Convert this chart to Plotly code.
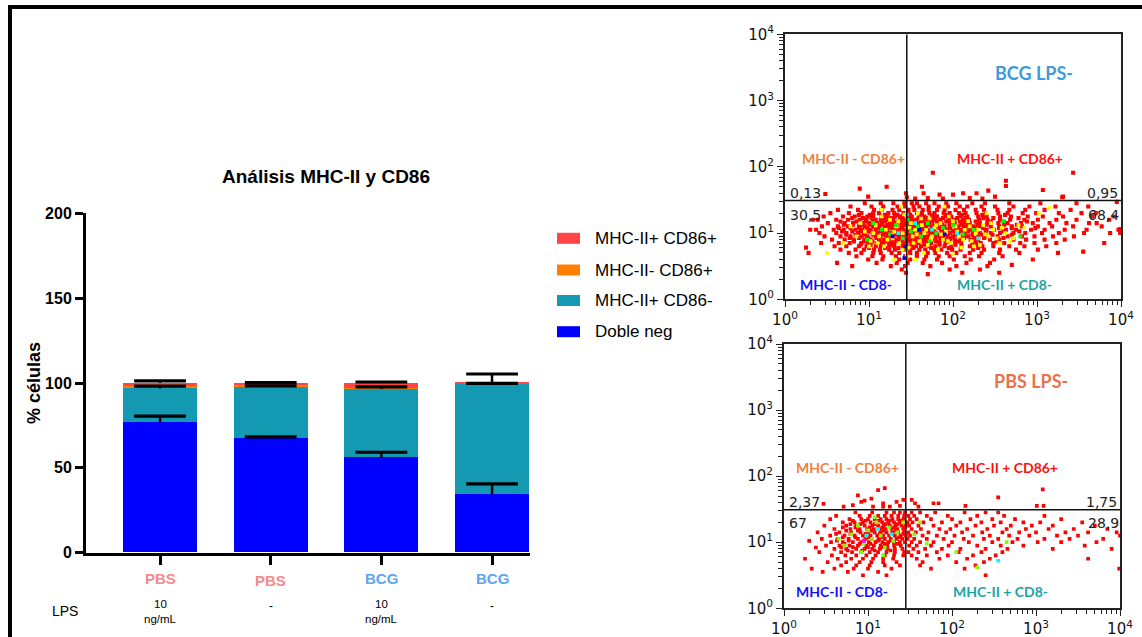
import plotly.graph_objects as go

W, H = 1142, 637

# ---------------- Bar chart data ----------------
CATS = [0, 1, 2, 3]
GROUPS = ["PBS", "PBS", "BCG", "BCG"]
LPS_LABELS = ["10<br>ng/mL", "-", "10<br>ng/mL", "-"]
SERIES_NAMES = ["Doble neg", "MHC-II+ CD86-", "MHC-II- CD86+", "MHC-II+ CD86+"]
DOBLE_NEG = [76.8, 67.4, 56.2, 34.4]
MHC_POS_CD86_NEG = [20.0, 30.3, 40.3, 65.0]
MHC_NEG_CD86_POS = [1.5, 1.2, 0.5, 0.2]
MHC_POS_CD86_POS = [1.7, 1.1, 3.0, 0.4]
ERR_DOBLE_NEG = [3.7, 0.8, 3.0, 6.1]
ERR_MHC_POS_CD86_NEG = [1.4, 0.6, 1.2, 0.4]
ERR_MHC_NEG_CD86_POS = [0.0, 0.0, 0.0, 0.0]
ERR_MHC_POS_CD86_POS = [1.2, 0.2, 0.6, 5.3]
BAR_COLORS = ["#0000FF", "#1399B2", "#FF8000", "#FF4545"]
Y_TICKS = [0, 50, 100, 150, 200]

# ---------------- Flow data (log10 units) ----------------
FLOW_TICKS = [1, 10, 100, 1000, 10000]
FLOW_TICKTEXT = ["10<sup>0</sup>", "10<sup>1</sup>", "10<sup>2</sup>", "10<sup>3</sup>", "10<sup>4</sup>"]
GATE_X_LOG = 1.45
GATE_Y_LOG = 1.49

# BCG LPS- : rows of events (log10 y : log10 x values)
BCG_RED_ROWS = [
    (1.45, "0.95 1.14 1.29 1.42 1.51 1.57 1.68 1.78 1.92 2.04 2.23 2.38 2.67 3.04 3.47"),
    (1.40, "0.78 1.03 1.17 1.34 1.43 1.53 1.60 1.71 1.83 1.94 2.08 2.17 2.34 2.50 2.72 2.91 3.22 3.61"),
    (1.35, "0.63 0.87 1.06 1.15 1.28 1.36 1.47 1.54 1.64 1.71 1.81 1.90 2.03 2.13 2.27 2.37 2.53 2.67 2.86 3.09 3.40"),
    (1.30, "0.54 0.76 0.91 1.05 1.12 1.23 1.30 1.41 1.47 1.57 1.63 1.72 1.78 1.89 1.96 2.07 2.15 2.28 2.39 2.54 2.65 2.83 2.99 3.26 3.53"),
    (1.275, "0.88 1.01 1.19 1.34 1.49 1.62 1.77 1.93 2.11 2.35 2.62"),
    (1.25, "0.46 0.69 0.83 0.98 1.05 1.15 1.22 1.31 1.37 1.46 1.51 1.61 1.66 1.75 1.81 1.91 1.98 2.09 2.17 2.30 2.40 2.56 2.69 2.89 3.07 3.31 3.66"),
    (1.225, "0.80 0.93 1.03 1.18 1.27 1.40 1.48 1.59 1.68 1.77 1.88 2.05 2.15 2.36 2.48 2.78"),
    (1.20, "0.39 0.61 0.75 0.89 0.97 1.08 1.14 1.23 1.29 1.37 1.42 1.51 1.56 1.65 1.70 1.79 1.85 1.95 2.01 2.12 2.19 2.31 2.41 2.56 2.68 2.85 3.01 3.23 3.47 3.86"),
    (1.175, "0.66 0.85 0.96 1.05 1.19 1.27 1.35 1.47 1.55 1.62 1.75 1.83 1.92 2.08 2.17 2.27 2.45 2.60 2.88"),
    (1.15, "0.51 0.71 0.81 0.93 1.00 1.10 1.15 1.25 1.30 1.39 1.44 1.53 1.58 1.67 1.72 1.81 1.86 1.96 2.02 2.13 2.20 2.32 2.41 2.54 2.65 2.81 2.95 3.15 3.35 3.71"),
    (1.125, "0.70 0.81 0.92 1.01 1.15 1.22 1.30 1.43 1.50 1.58 1.71 1.78 1.87 2.00 2.10 2.18 2.29 2.40 2.61 2.76"),
    (1.10, "0.44 0.63 0.75 0.88 0.95 1.05 1.11 1.20 1.25 1.34 1.39 1.48 1.53 1.62 1.67 1.76 1.81 1.90 1.96 2.06 2.13 2.24 2.32 2.45 2.55 2.70 2.82 3.01 3.18 3.43 3.77"),
    (1.075, "0.64 0.78 0.89 0.98 1.12 1.19 1.27 1.40 1.47 1.55 1.68 1.75 1.84 1.97 2.06 2.15 2.26 2.36 2.55 2.70 2.98"),
    (1.05, "0.37 0.58 0.70 0.84 0.92 1.02 1.08 1.17 1.22 1.31 1.36 1.45 1.50 1.59 1.64 1.73 1.78 1.87 1.93 2.03 2.09 2.20 2.28 2.40 2.49 2.63 2.75 2.93 3.09 3.33 3.59 3.97"),
    (1.025, "0.68 0.80 0.90 0.99 1.14 1.21 1.29 1.42 1.49 1.57 1.70 1.77 1.86 2.00 2.09 2.18 2.28 2.39 2.60 2.79"),
    (1.00, "0.41 0.61 0.73 0.87 0.94 1.04 1.10 1.19 1.24 1.33 1.38 1.47 1.52 1.61 1.66 1.75 1.80 1.90 1.96 2.06 2.13 2.24 2.32 2.45 2.56 2.72 2.86 3.06 3.26 3.56 3.87"),
    (0.975, "0.73 0.84 0.95 1.05 1.17 1.24 1.32 1.45 1.52 1.60 1.73 1.81 1.90 2.03 2.14 2.23 2.35 2.47 2.70"),
    (0.95, "0.47 0.66 0.78 0.91 0.98 1.08 1.13 1.22 1.27 1.36 1.41 1.50 1.55 1.64 1.69 1.78 1.84 1.94 2.00 2.11 2.18 2.30 2.39 2.53 2.65 2.82 2.97 3.19 3.44"),
    (0.925, "0.77 0.88 0.99 1.09 1.21 1.29 1.36 1.49 1.57 1.65 1.79 1.88 1.97 2.13 2.25 2.37 2.60"),
    (0.90, "0.56 0.71 0.82 0.95 1.02 1.12 1.17 1.26 1.31 1.40 1.45 1.54 1.59 1.69 1.75 1.85 1.91 2.02 2.09 2.21 2.30 2.44 2.55 2.72 2.87 3.09 3.33"),
    (0.875, "0.82 0.94 1.04 1.19 1.27 1.35 1.49 1.56 1.65 1.80 1.96 2.06 2.27 2.52"),
    (0.85, "0.43 0.64 0.77 0.91 0.99 1.09 1.15 1.24 1.30 1.39 1.44 1.53 1.59 1.68 1.74 1.84 1.91 2.02 2.10 2.23 2.33 2.48 2.61 2.80 2.97 3.23"),
    (0.825, "0.90 1.02 1.17 1.28 1.43 1.51 1.66 1.84 2.03 2.28"),
    (0.80, "0.59 0.73 0.88 0.97 1.08 1.14 1.24 1.30 1.40 1.46 1.56 1.62 1.72 1.79 1.90 1.98 2.10 2.20 2.35 2.48 2.67 2.85 3.11"),
    (0.775, "1.00 1.19 1.35 1.53 1.74 1.95 2.30"),
    (0.75, "0.66 0.84 0.94 1.06 1.13 1.24 1.31 1.42 1.49 1.60 1.67 1.78 1.86 1.99 2.09 2.24 2.37 2.56 2.75 3.01"),
    (0.70, "0.76 0.91 1.05 1.14 1.27 1.36 1.49 1.57 1.70 1.79 1.93 2.04 2.20 2.34 2.55 2.79"),
    (0.65, "0.85 1.04 1.17 1.32 1.43 1.57 1.68 1.83 1.96 2.14 2.31 2.59"),
    (0.60, "0.99 1.16 1.36 1.49 1.66 1.81 2.01 2.21 2.49"),
    (0.55, "1.09 1.33 1.46 1.64 1.87 2.16 2.44"),
    (0.50, "1.26 1.43 1.73 2.04 2.41"),
    (0.45, "1.39 1.96 2.32"),
    (0.40, "1.44 2.11"),
]
BCG_RED_EXTRA_X = [0.48, 0.89, 1.21, 1.44, 1.45, 1.63, 1.65, 1.76, 1.84, 2.00, 2.28, 2.42, 2.63, 2.63, 3.07,
                   3.43, 3.31, 3.95, 0.99, 1.70, 1.88, 2.12, 2.20, 2.35, 2.50, 3.30, 1.55,
                   0.25, 0.30, 0.28, 0.33, 3.99, 3.99, 3.92, 3.80, 3.70, 3.55, 3.62, 0.62, 0.80, 2.70,
                   2.95, 3.25, 1.70, 2.55]
BCG_RED_EXTRA_Y = [1.59, 1.67, 1.70, 1.60, 1.54, 1.70, 1.60, 1.91, 1.58, 1.58, 1.60, 1.64, 1.79, 1.71, 1.65,
                   1.91, 1.55, 1.47, 1.55, 1.53, 1.52, 1.60, 1.53, 1.52, 1.55, 1.54, 1.52,
                   0.78, 1.05, 0.70, 1.20, 1.00, 1.06, 1.25, 0.85, 1.30, 0.72, 1.15, 0.55, 0.50, 0.52,
                   0.60, 0.70, 0.38, 0.40]
BCG_YELLOW_X = [0.95, 1.02, 1.08, 1.12, 1.18, 1.20, 1.25, 1.28, 1.33, 1.36, 1.40, 1.42, 1.47, 1.50, 1.52,
                1.55, 1.58, 1.60, 1.63, 1.66, 1.70, 1.72, 1.75, 1.78, 1.82, 1.85, 1.88, 1.92, 1.95, 1.98,
                2.03, 2.07, 2.10, 2.14, 2.18, 2.22, 2.27, 2.32, 2.36, 2.42, 2.48, 2.55, 2.62, 2.72, 2.85,
                3.02, 3.15, 0.85, 0.78, 0.70, 0.50, 1.45, 1.65, 1.30, 1.15, 1.90, 2.00, 2.40, 1.38, 1.55,
                1.05, 1.10, 1.22, 1.30, 1.35, 1.48, 1.53, 1.57, 1.62, 1.68, 1.74, 1.80, 1.86, 1.94, 2.00,
                2.05, 2.12, 2.20, 2.25, 2.30, 2.38, 2.45, 2.52, 2.58, 2.68, 2.78, 1.15, 1.40, 0.90, 1.00]
BCG_YELLOW_Y = [1.02, 0.88, 1.12, 0.95, 0.80, 1.05, 1.20, 0.92, 1.10, 0.85, 1.00, 1.28, 0.78, 1.15, 0.95,
                1.05, 1.30, 0.88, 1.12, 1.00, 0.82, 1.22, 0.95, 1.08, 0.75, 1.15, 0.90, 1.02, 1.25, 0.85,
                1.10, 0.95, 0.78, 1.05, 1.18, 0.88, 1.00, 0.82, 1.12, 0.95, 1.05, 0.85, 1.00, 0.92, 1.08,
                1.30, 1.38, 0.95, 1.10, 0.85, 0.70, 0.65, 0.70, 0.60, 1.35, 1.40, 0.68, 1.30, 1.40, 0.60,
                1.00, 0.85, 0.90, 1.02, 1.18, 1.08, 0.85, 0.98, 1.22, 1.05, 0.90, 1.12, 0.98, 0.88, 1.18,
                1.02, 0.90, 1.10, 0.80, 1.05, 0.98, 1.15, 0.92, 1.08, 0.88, 1.12, 1.25, 0.75, 1.15, 0.80]
BCG_GREEN_X = [1.15, 1.25, 1.32, 1.40, 1.46, 1.50, 1.58, 1.62, 1.70, 1.80, 1.88, 2.00, 2.12, 2.25, 0.98,
               1.05, 1.72, 2.60, 2.80]
BCG_GREEN_Y = [1.05, 0.98, 1.12, 0.92, 1.20, 1.02, 1.10, 0.95, 1.15, 1.00, 1.08, 1.12, 0.98, 1.05, 0.90,
               1.15, 0.88, 1.18, 0.95]
BCG_CYAN_X = [1.35, 1.55, 1.75, 1.45, 2.05, 2.30]
BCG_CYAN_Y = [1.00, 1.15, 1.05, 1.28, 1.00, 0.92]
BCG_BLUE_X = [1.28, 1.43, 1.60, 1.90, 1.42]
BCG_BLUE_Y = [0.95, 0.80, 1.05, 0.98, 0.62]

# PBS LPS- : rows of events (log10 y : log10 x values)
PBS_RED_ROWS = [
    (1.45, "0.85 1.05 1.22 1.31 1.38 1.44 1.52 1.62 1.80 2.15 2.40 2.55"),
    (1.40, "0.62 0.90 1.02 1.12 1.20 1.28 1.36 1.43 1.48 1.55 1.70 1.95 2.30 2.62 3.10"),
    (1.35, "0.55 0.78 0.92 1.00 1.08 1.15 1.22 1.29 1.36 1.42 1.50 1.58 1.75 2.00 2.22 2.48 2.75 3.30"),
    (1.325, "0.82 0.97 1.13 1.26 1.40"),
    (1.30, "0.70 0.84 0.94 1.03 1.10 1.17 1.24 1.31 1.38 1.44 1.47 1.53 1.66 1.88 2.10 2.35 2.58 2.85 3.05 3.55"),
    (1.275, "0.79 0.91 1.08 1.21 1.35"),
    (1.25, "0.48 0.74 0.86 0.96 1.05 1.12 1.19 1.26 1.33 1.40 1.45 1.49 1.60 1.78 2.05 2.28 2.50 2.70 2.95 3.20 3.70"),
    (1.225, "0.70 0.85 1.02 1.17 1.31 1.44"),
    (1.20, "0.60 0.79 0.90 0.99 1.07 1.14 1.21 1.28 1.35 1.42 1.52 1.63 1.85 1.98 2.18 2.42 2.65 2.88 3.15 3.45 3.85"),
    (1.175, "0.74 0.88 1.04 1.18 1.33"),
    (1.15, "0.40 0.66 0.80 0.91 1.00 1.08 1.15 1.22 1.29 1.36 1.43 1.48 1.57 1.72 1.93 2.12 2.36 2.60 2.80 3.00 3.35 3.62 3.96"),
    (1.125, "0.62 0.79 0.97 1.14 1.29 1.42"),
    (1.10, "0.55 0.72 0.84 0.94 1.03 1.11 1.18 1.25 1.32 1.39 1.45 1.50 1.65 1.82 2.03 2.25 2.45 2.68 2.92 3.25 3.50 4.00"),
    (1.075, "0.70 0.85 1.00 1.16 1.37"),
    (1.05, "0.45 0.64 0.77 0.88 0.97 1.05 1.13 1.20 1.27 1.34 1.41 1.47 1.55 1.70 1.90 2.14 2.38 2.55 2.78 3.10 3.40 3.80"),
    (1.025, "0.63 0.77 0.95 1.12 1.27"),
    (1.00, "0.56 0.70 0.82 0.92 1.01 1.09 1.17 1.24 1.31 1.38 1.44 1.52 1.62 1.78 2.00 2.20 2.48 2.72 3.02 3.30 3.72"),
    (0.975, "0.72 0.90 1.03 1.20 1.35"),
    (0.95, "0.50 0.66 0.78 0.88 0.98 1.07 1.15 1.23 1.31 1.39 1.49 1.58 1.75 1.96 2.30 2.58 2.85 3.58"),
    (0.925, "0.68 0.82 1.00 1.18"),
    (0.90, "0.60 0.74 0.86 0.96 1.05 1.14 1.23 1.32 1.41 1.54 1.68 1.88 2.10 2.40 2.66 3.20 3.90"),
    (0.875, "0.76 0.93 1.08 1.27"),
    (0.85, "0.42 0.68 0.81 0.92 1.02 1.12 1.22 1.32 1.43 1.48 1.60 1.82 2.08 2.35 2.60"),
    (0.80, "0.57 0.73 0.86 0.98 1.09 1.20 1.31 1.42 1.52 1.70 1.95 2.25 2.52"),
    (0.75, "0.64 0.80 0.94 1.06 1.18 1.30 1.58 1.85 2.18 2.45 3.62"),
    (0.70, "0.52 0.74 0.90 1.04 1.18 1.34 1.65 2.05 2.38"),
    (0.65, "0.68 0.86 1.02 1.20 1.38 1.62 2.28"),
    (0.60, "0.60 0.83 1.00 1.28 1.75 2.15 3.99"),
    (0.55, "0.46 0.76 1.12"),
    (0.50, "0.94 1.22 2.40"),
]
PBS_RED_EXTRA_X = [1.12, 1.20, 0.88, 0.82, 0.92, 0.96, 1.04, 1.18, 1.26, 1.34, 1.38, 1.42, 0.47, 0.71, 1.18,
                   1.06, 1.52, 1.56, 1.60, 1.78, 1.84, 2.16, 2.55, 3.01, 3.08, 3.09,
                   0.25, 0.33, 0.38, 0.30]
PBS_RED_EXTRA_Y = [1.79, 1.82, 1.71, 1.56, 1.61, 1.63, 1.66, 1.59, 1.54, 1.61, 1.55, 1.64, 1.58, 1.54, 1.54,
                   1.54, 1.64, 1.59, 1.54, 1.59, 1.59, 1.55, 1.68, 1.55, 1.80, 1.55,
                   0.75, 0.60, 0.92, 1.02]
PBS_GREEN_X = [0.80, 0.88, 0.95, 1.00, 1.05, 1.10, 1.15, 1.20, 1.25, 1.30, 0.72, 0.92, 1.08, 1.35, 1.42,
               0.65, 1.18, 1.55, 1.70, 2.30, 2.65, 2.05, 1.62]
PBS_GREEN_Y = [1.12, 1.25, 0.98, 1.18, 1.05, 1.30, 1.10, 0.92, 1.22, 1.02, 0.95, 0.85, 1.38, 1.15, 1.30,
               1.05, 0.80, 1.12, 0.98, 0.62, 1.00, 0.85, 1.30]
PBS_CYAN_X = [0.98, 1.12, 1.28, 2.55]
PBS_CYAN_Y = [1.10, 1.20, 1.12, 0.72]
PBS_MAGENTA_X = [0.95]
PBS_MAGENTA_Y = [1.02]


def PX(x):
    return x / W


def PY(y):
    return 1 - y / H


def rows_to_xy(rows):
    xs, ys = [], []
    for ylog, xstr in rows:
        for v in xstr.split():
            xs.append(10 ** float(v))
            ys.append(10 ** ylog)
    return xs, ys


def lin(vals):
    return [10 ** v for v in vals]


fig = go.Figure()

# ---------------- Bars ----------------
bar_series = [DOBLE_NEG, MHC_POS_CD86_NEG, MHC_NEG_CD86_POS, MHC_POS_CD86_POS]
bar_errors = [ERR_DOBLE_NEG, ERR_MHC_POS_CD86_NEG, ERR_MHC_NEG_CD86_POS, ERR_MHC_POS_CD86_POS]
for vals, name, col in zip(bar_series, SERIES_NAMES, BAR_COLORS):
    fig.add_trace(go.Bar(
        x=CATS, y=vals, name=name, marker=dict(color=col, line=dict(width=0)),
        width=0.669, showlegend=False, xaxis="x", yaxis="y",
    ))

# error bars (upper only) drawn on top of the whole stack, at each segment's top:
# stem = error bar without caps, cap = horizontal line marker at the stem's end
cum = [0.0] * len(CATS)
for vals, err in zip(bar_series, bar_errors):
    cum = [c + v for c, v in zip(cum, vals)]
    if any(e > 0 for e in err):
        fig.add_trace(go.Scatter(
            x=CATS, y=cum, mode="markers", xaxis="x", yaxis="y", showlegend=False, hoverinfo="skip",
            marker=dict(size=1, color="rgba(0,0,0,0)"),
            error_y=dict(type="data", symmetric=False, array=err, arrayminus=[0] * len(err),
                         color="black", thickness=2.5, width=0),
        ))
        fig.add_trace(go.Scatter(
            x=CATS, y=[c + e for c, e in zip(cum, err)], mode="markers", xaxis="x", yaxis="y",
            showlegend=False, hoverinfo="skip",
            marker=dict(symbol="line-ew", size=37, color="black", line=dict(width=3.2, color="black")),
        ))


# ---------------- Flow scatter ----------------
def add_dots(xs, ys, color, ax, size=3.7):
    fig.add_trace(go.Scatter(
        x=xs, y=ys, mode="markers", xaxis="x" + ax, yaxis="y" + ax, showlegend=False,
        hoverinfo="skip",
        marker=dict(symbol="square", size=size, color=color, line=dict(width=0)),
    ))


bx, by = rows_to_xy(BCG_RED_ROWS)
add_dots(bx + lin(BCG_RED_EXTRA_X), by + lin(BCG_RED_EXTRA_Y), "#FF0000", "2", 4.1)
add_dots(lin(BCG_YELLOW_X), lin(BCG_YELLOW_Y), "#FFFF00", "2")
add_dots(lin(BCG_GREEN_X), lin(BCG_GREEN_Y), "#00FF00", "2")
add_dots(lin(BCG_CYAN_X), lin(BCG_CYAN_Y), "#00FFFF", "2")
add_dots(lin(BCG_BLUE_X), lin(BCG_BLUE_Y), "#0000FF", "2")

px_, py_ = rows_to_xy(PBS_RED_ROWS)
add_dots(px_ + lin(PBS_RED_EXTRA_X), py_ + lin(PBS_RED_EXTRA_Y), "#FF0000", "3")
add_dots(lin(PBS_GREEN_X), lin(PBS_GREEN_Y), "#80FF00", "3")
add_dots(lin(PBS_CYAN_X), lin(PBS_CYAN_Y), "#00FFFF", "3")
add_dots(lin(PBS_MAGENTA_X), lin(PBS_MAGENTA_Y), "#FF00FF", "3")

# quadrant gates
for ax in ["2", "3"]:
    gx = 10 ** GATE_X_LOG
    gy = 10 ** GATE_Y_LOG
    fig.add_trace(go.Scatter(x=[gx, gx], y=[1, 10000], mode="lines", xaxis="x" + ax, yaxis="y" + ax,
                             line=dict(color="#111111", width=1.5), showlegend=False, hoverinfo="skip"))
    fig.add_trace(go.Scatter(x=[1, 10000], y=[gy, gy], mode="lines", xaxis="x" + ax, yaxis="y" + ax,
                             line=dict(color="#111111", width=1.5), showlegend=False, hoverinfo="skip"))

ARIAL = "Liberation Sans, Arial, Helvetica, sans-serif"
DEJAVU = "DejaVu Sans, Verdana, sans-serif"
LATO = "Lato, Carlito, Calibri, sans-serif"

flow_axis = dict(
    type="log", range=[0, 4], tickvals=FLOW_TICKS, ticktext=FLOW_TICKTEXT,
    showline=True, mirror=True, linecolor="#222222", linewidth=2,
    ticks="outside", ticklen=6, tickwidth=1.2, tickcolor="#222222",
    minor=dict(ticks="outside", ticklen=4, tickwidth=1, tickcolor="#222222",
               tickvals=[m * 10 ** d for d in range(4) for m in range(2, 10)]),
    showgrid=False, zeroline=False, automargin=False,
    tickfont=dict(family=DEJAVU, size=15, color="#111111"),
)

fig.update_layout(
    width=W, height=H, autosize=False,
    margin=dict(l=0, r=0, t=0, b=0, pad=0, autoexpand=False),
    paper_bgcolor="white", plot_bgcolor="white",
    barmode="stack", bargap=0,
    showlegend=False,
    xaxis=dict(domain=[PX(86), PX(530)], range=[-0.669, 3.343], tickvals=CATS, showticklabels=False,
               ticks="outside", ticklen=9, tickwidth=3, tickcolor="black",
               showline=True, linecolor="black", linewidth=3, showgrid=False, zeroline=False,
               anchor="y", fixedrange=True, automargin=False),
    yaxis=dict(domain=[PY(552.7), PY(213.3)], range=[0, 200], tickvals=Y_TICKS,
               ticks="outside", ticklen=8, tickwidth=3, tickcolor="black",
               showline=True, linecolor="black", linewidth=3, showgrid=False, zeroline=False,
               tickfont=dict(family=ARIAL, size=16, color="black", weight="bold"),
               anchor="x", automargin=False),
    xaxis2=dict(domain=[PX(785), PX(1121)], anchor="y2", **flow_axis),
    yaxis2=dict(domain=[PY(299.3), PY(34.3)], anchor="x2", **flow_axis),
    xaxis3=dict(domain=[PX(784), PX(1120)], anchor="y3", **flow_axis),
    yaxis3=dict(domain=[PY(608.3), PY(344)], anchor="x3", **flow_axis),
)

ann = []


def text(x, y, s, size, color="black", family=ARIAL, bold=False, xanchor="center", yanchor="middle",
         xref="paper", angle=0):
    ann.append(dict(x=x if xref != "paper" else PX(x), y=PY(y), xref=xref, yref="paper", text=s,
                    showarrow=False, xanchor=xanchor, yanchor=yanchor, textangle=angle,
                    font=dict(family=family, size=size, color=color, weight="bold" if bold else "normal")))


# Bar chart titles
text(326, 176, "Análisis MHC-II y CD86", 19, bold=True)
text(34, 383, "% células", 18, bold=True, angle=-90)

GROUP_COLORS = {"PBS": "#F28B8B", "BCG": "#5AA5F5"}
GROUP_Y = [578, 580, 578, 578]
for c, g, lp, gy in zip(CATS, GROUPS, LPS_LABELS, GROUP_Y):
    text(c, gy, g, 15, color=GROUP_COLORS[g], bold=True, xref="x")
    if lp == "-":
        text(c, 606, lp, 12, xref="x")
    else:
        top, bottom = lp.split("<br>")
        text(c, 604, top, 11.5, xref="x")
        text(c, 619, bottom, 11.5, xref="x")
text(65, 611, "LPS", 14)

# manual legend
shapes = []
LEG_Y = [238.3, 270, 300.5, 331.7]
LEG_ORDER = [3, 2, 1, 0]
for yy, i in zip(LEG_Y, LEG_ORDER):
    shapes.append(dict(type="rect", xref="paper", yref="paper", x0=PX(557), x1=PX(580),
                       y0=PY(yy + 5.5), y1=PY(yy - 5.5), fillcolor=BAR_COLORS[i], line=dict(width=0)))
    text(593, yy, SERIES_NAMES[i], 17, xanchor="left")

# Flow quadrant labels
FLOW_LABELS = [
    (1034, 73, "BCG LPS-", 18, "#3C9BDC"),
    (853, 159, "MHC-II - CD86+", 14, "#F08040"),
    (1010, 159, "MHC-II + CD86+", 14, "#FF1010"),
    (846, 285, "MHC-II - CD8-", 14, "#1010FF"),
    (1004, 285, "MHC-II + CD8-", 14, "#1AA3A3"),
    (1031, 381, "PBS LPS-", 18, "#E8734A"),
    (848, 467, "MHC-II - CD86+", 14, "#F08040"),
    (1005, 467, "MHC-II + CD86+", 14, "#FF1010"),
    (842, 591, "MHC-II - CD8-", 14, "#1010FF"),
    (1000, 591, "MHC-II + CD8-", 14, "#1AA3A3"),
]
for x, y, s, size, col in FLOW_LABELS:
    text(x, y, s, size, color=col, family=LATO, bold=True)

PCT_LABELS = [
    (788, 193, "0,13", "left"), (1120, 193, "0,95", "right"),
    (788, 215, "30,5", "left"), (1121, 215, "68,4", "right"),
    (787, 502, "2,37", "left"), (1119, 502, "1,75", "right"),
    (787, 523, "67", "left"), (1121, 523, "28,9", "right"),
]
for x, y, s, anc in PCT_LABELS:
    text(x, y, s, 14, color="#222222", family=DEJAVU, xanchor=anc)

# frame lines (top and left)
shapes.append(dict(type="line", xref="paper", yref="paper", x0=PX(8), x1=1, y0=PY(7), y1=PY(7),
                   line=dict(color="black", width=4)))
shapes.append(dict(type="line", xref="paper", yref="paper", x0=PX(10), x1=PX(10), y0=PY(5), y1=0,
                   line=dict(color="black", width=4)))

fig.update_layout(annotations=ann, shapes=shapes)
fig.write_html(
    "out.html",
    config={"displayModeBar": False},
    post_script="document.documentElement.style.margin='0';document.body.style.margin='0';"
                "document.documentElement.style.overflow='hidden';document.body.style.overflow='hidden';",
)
